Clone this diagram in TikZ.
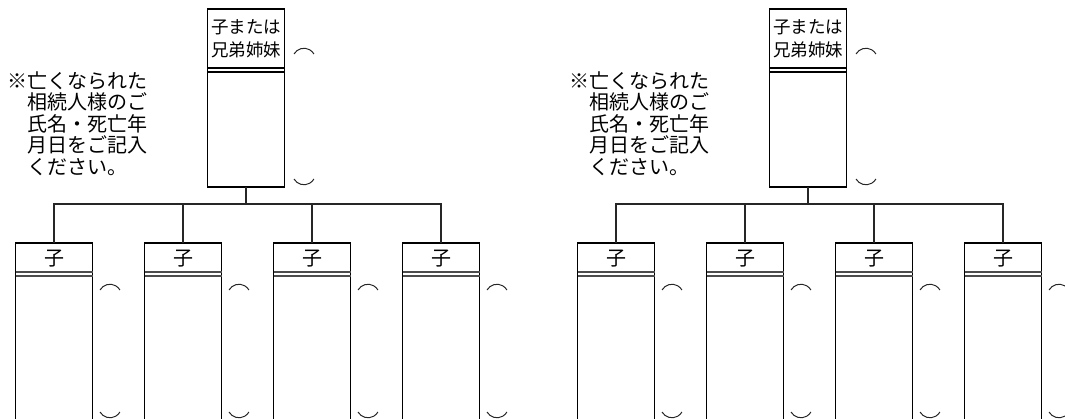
\documentclass[tikz,border=0pt]{standalone}
\usepackage{fontspec}
\setmainfont{Noto Sans CJK JP}

\begin{document}
\begin{tikzpicture}[x=1pt,y=-1pt,
    box/.style={draw, line width=1.8pt, minimum width=77pt, inner sep=0pt, outer sep=0pt, anchor=north},
    txt/.style={font=\fontsize{17.5}{23}\selectfont, align=center, inner sep=0pt},
    ktxt/.style={font=\fontsize{20}{24}\selectfont, inner sep=0pt},
    note/.style={font=\fontsize{20}{21.5}\selectfont, align=left, inner sep=0pt, anchor=north west},
    link/.style={line width=1.3pt, black!85},
    dbl/.style={line width=1.1pt},
    paren/.style={line width=1pt, black!85}]
  \clip (0,0) rectangle (1065,418);

  \foreach \g/\dx in {a/0, b/562} {
    \begin{scope}[xshift=\dx pt]
    \node[box, minimum height=178pt] (top\g) at (246,9) {};
    \node[txt] (tt\g) at (246,38.5) {子または\\兄弟姉妹};
    \node[note] (nt\g) at (7,71) {※亡くなられた\\　相続人様のご\\　氏名・死亡年\\　月日をご記入\\　ください。};

    \node[box, minimum height=190pt] (k1\g) at (54,243) {};
    \node[box, minimum height=190pt] (k2\g) at (183,243) {};
    \node[box, minimum height=190pt] (k3\g) at (312,243) {};
    \node[box, minimum height=190pt] (k4\g) at (441,243) {};
    \node[ktxt] (kt1\g) at (54,258.5) {子};
    \node[ktxt] (kt2\g) at (183,258.5) {子};
    \node[ktxt] (kt3\g) at (312,258.5) {子};
    \node[ktxt] (kt4\g) at (441,258.5) {子};

    \draw[link] (top\g.south) -- ++(0,17) -| (k1\g.north);
    \draw[link] (top\g.south) -- ++(0,17) -| (k2\g.north);
    \draw[link] (top\g.south) -- ++(0,17) -| (k3\g.north);
    \draw[link] (top\g.south) -- ++(0,17) -| (k4\g.north);

    % 二重線とかっこ
    \draw[dbl] ([yshift=-59pt]top\g.north west) -- ([yshift=-59pt]top\g.north east)
      ([yshift=-63pt]top\g.north west) -- ([yshift=-63pt]top\g.north east);
    \draw[paren] ([xshift=9.5pt,yshift=-45pt]top\g.north east) arc[start angle=150, end angle=30, radius=11.5pt];
    \draw[paren] ([xshift=9.5pt,yshift=-170pt]top\g.north east) arc[start angle=210, end angle=330, radius=11.5pt];
    \foreach \k in {k1,k2,k3,k4} {
      \draw[dbl, black!70] ([yshift=-29pt]\k\g.north west) -- ([yshift=-29pt]\k\g.north east)
        ([yshift=-33pt]\k\g.north west) -- ([yshift=-33pt]\k\g.north east);
      \draw[paren] ([xshift=7.5pt,yshift=-47pt]\k\g.north east) arc[start angle=150, end angle=30, radius=11.5pt];
      \draw[paren] ([xshift=7.5pt,yshift=-169pt]\k\g.north east) arc[start angle=210, end angle=330, radius=11.5pt];
    }
    \end{scope}
  }
\end{tikzpicture}
\end{document}
